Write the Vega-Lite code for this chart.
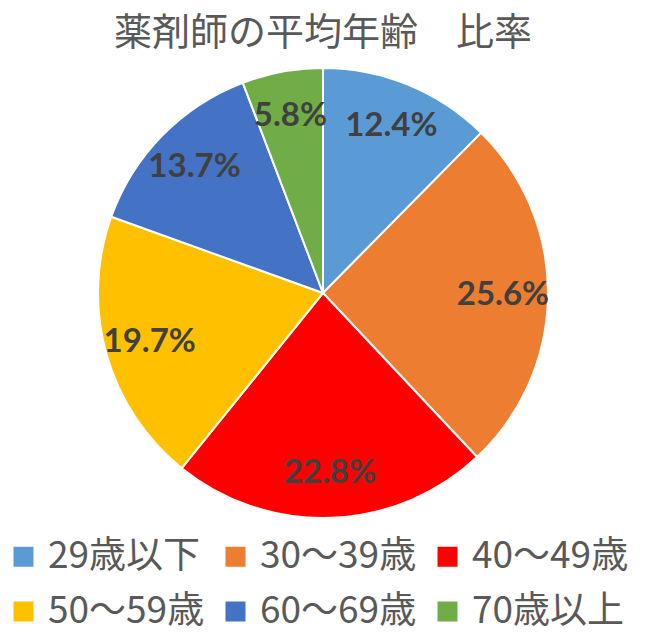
{
  "$schema": "https://vega.github.io/schema/vega-lite/v6.json",
  "width": 450,
  "height": 450,
  "autosize": {"type": "none"},
  "padding": {"left": 98, "top": 68, "right": 104, "bottom": 117},
  "background": "white",
  "title": {
    "text": "薬剤師の平均年齢　比率",
    "font": "Noto Sans CJK JP",
    "fontSize": 38,
    "fontWeight": "normal",
    "color": "#595959",
    "anchor": "middle",
    "offset": 11
  },
  "data": {
    "values": [
      {"idx": 1, "category": "29歳以下", "share": 0.124},
      {"idx": 2, "category": "30〜39歳", "share": 0.256},
      {"idx": 3, "category": "40〜49歳", "share": 0.228},
      {"idx": 4, "category": "50〜59歳", "share": 0.197},
      {"idx": 5, "category": "60〜69歳", "share": 0.137},
      {"idx": 6, "category": "70歳以上", "share": 0.058}
    ]
  },
  "encoding": {
    "theta": {"field": "share", "type": "quantitative", "stack": true},
    "order": {"field": "idx", "type": "quantitative"}
  },
  "layer": [
    {
      "mark": {"type": "arc", "stroke": "white", "strokeWidth": 2, "outerRadius": 225},
      "encoding": {
        "color": {
          "field": "category",
          "type": "nominal",
          "scale": {
            "domain": ["29歳以下", "30〜39歳", "40〜49歳", "50〜59歳", "60〜69歳", "70歳以上"],
            "range": ["#5B9BD5", "#ED7D31", "#FF0000", "#FFC000", "#4472C4", "#70AD47"]
          },
          "legend": {
            "title": null,
            "orient": "none",
            "legendX": -93,
            "legendY": 470,
            "direction": "horizontal",
            "columns": 3,
            "gridAlign": "all",
            "columnPadding": 12,
            "rowPadding": 17,
            "symbolType": "square",
            "symbolSize": 400,
            "symbolStrokeWidth": 0,
            "labelFont": "Noto Sans CJK JP",
            "labelFontSize": 37,
            "labelColor": "#595959",
            "labelLimit": 400,
            "labelOffset": 6
          }
        }
      }
    },
    {
      "mark": {"type": "text", "radius": 180, "font": "Lato", "fontWeight": "bold", "fontSize": 33, "color": "#404040"},
      "encoding": {
        "text": {"field": "share", "type": "quantitative", "format": ".1%"}
      }
    }
  ],
  "view": {"stroke": null}
}
